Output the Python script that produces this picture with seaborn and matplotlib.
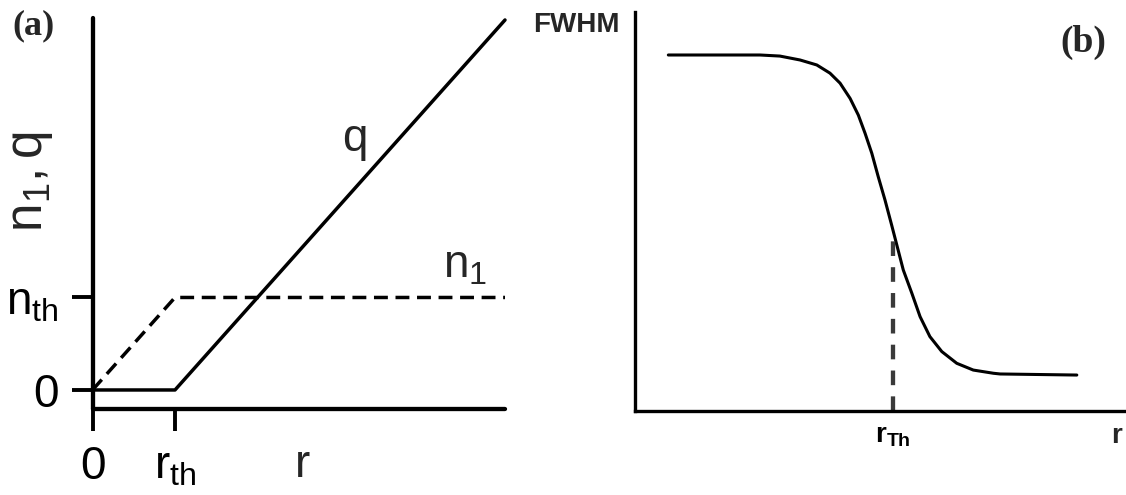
import matplotlib
matplotlib.use("Agg")
import numpy as np
import pandas as pd
import seaborn as sns
import matplotlib.pyplot as plt

# ---- panel (a): carrier density n1 and q versus r ----
r_a = [0.0, 1.0, 5.0]
q_a = [0.0, 0.0, 4.0]
n1_a = [0.0, 1.0, 1.0]
xticks_a = [0.0, 1.0]
xticklabels_a = ["0", r"$\mathregular{r_{th}}$"]
yticks_a = [0.0, 1.0]
yticklabels_a = ["0", r"$\mathregular{n_{th}}$"]

# ---- panel (b): FWHM versus r ----
r_b = [0.131, 0.409, 0.486, 0.563, 0.641, 0.706, 0.757, 0.796, 0.835, 0.867,
       0.893, 0.919, 0.944, 0.970, 0.996, 1.016, 1.041, 1.074, 1.106, 1.144,
       1.190, 1.248, 1.312, 1.390, 1.416, 1.713]
fwhm_b = [1.000, 1.000, 1.000, 0.997, 0.986, 0.972, 0.949, 0.921, 0.878, 0.831,
          0.780, 0.724, 0.658, 0.593, 0.522, 0.466, 0.396, 0.331, 0.265, 0.209,
          0.167, 0.134, 0.115, 0.106, 0.104, 0.101]
r_th_b = 1.0
fwhm_th_b = 0.505
xticklabels_b = [r"$\mathregular{r_{Th}}$"]

sns.set_theme(style="white")
plt.rcParams["font.family"] = ["Liberation Sans", "DejaVu Sans"]
plt.rcParams["mathtext.fontset"] = "custom"
plt.rcParams["mathtext.rm"] = "Liberation Sans"
plt.rcParams["mathtext.it"] = "Liberation Sans"
plt.rcParams["mathtext.bf"] = "Liberation Sans:bold"

fig = plt.figure(figsize=(11.26, 4.95), dpi=100)
axA = fig.add_axes([0.06017, 0.12808, 0.40298, 0.8596])
axB = fig.add_axes([0.5635, 0.1697, 0.4357, 0.8055])

# ---------------- panel (a) ----------------
dfA = pd.DataFrame({"r": r_a, "q": q_a, "n1": n1_a})
sns.lineplot(data=dfA, x="r", y="q", ax=axA, color="black", lw=2.5,
             clip_on=False)
sns.lineplot(data=dfA, x="r", y="n1", ax=axA, color="black", lw=2.5,
             linestyle=(0, (4.0, 2.2)), clip_on=False)

axA.set_xlim(-0.3, 5.2)
axA.set_ylim(-0.45, 4.15)
axA.set_xlabel("")
axA.set_ylabel("")
for side in ("top", "right"):
    axA.spines[side].set_visible(False)
axA.spines["left"].set_position(("data", 0))
axA.spines["left"].set_bounds(-0.21, 4.02)
axA.spines["bottom"].set_position(("data", -0.21))
axA.spines["bottom"].set_bounds(0, 5.0)
for side in ("left", "bottom"):
    axA.spines[side].set_linewidth(3.1)
    axA.spines[side].set_color("black")
    axA.spines[side].set_capstyle("round")

axA.set_xticks(xticks_a)
axA.set_xticklabels(xticklabels_a)
axA.set_yticks(yticks_a)
axA.set_yticklabels(yticklabels_a)
axA.tick_params(axis="x", direction="out", length=16.1, width=2.8,
                pad=9.5, labelsize=33, colors="black", bottom=True)
axA.tick_params(axis="y", direction="out", length=15.0, width=2.8,
                pad=9.5, labelsize=33, colors="black", left=True)

axA.text(3.18, 2.58, "q", fontsize=33, ha="center", va="baseline")
axA.text(4.25, 1.22, r"$\mathregular{n_1}$", fontsize=33, ha="left",
         va="baseline")
axA.annotate("r", xy=(2.54, -0.21), xycoords="data",
             xytext=(0, -48.7), textcoords="offset points",
             fontsize=33, ha="center", va="baseline")
fig.text(42 / 1126, 1 - 182 / 495, r"$\mathregular{n_1, q}$", fontsize=37,
         rotation=90, rotation_mode="anchor", ha="center", va="baseline")

# ---------------- panel (b) ----------------
dfB = pd.DataFrame({"r": r_b, "FWHM": fwhm_b})
sns.lineplot(data=dfB, x="r", y="FWHM", ax=axB, color="black", lw=2.2)
axB.vlines(r_th_b, 0, fwhm_th_b, colors="#3a3a3a", lw=3.1,
           linestyles=(0, (3.4, 2.6)))

axB.set_xlim(0, 1.9)
axB.set_ylim(0, 1.12)
axB.set_xlabel("")
axB.set_ylabel("")
for side in ("top", "right"):
    axB.spines[side].set_visible(False)
for side in ("left", "bottom"):
    axB.spines[side].set_linewidth(2.4)
    axB.spines[side].set_color("black")
axB.set_xticks([r_th_b])
axB.set_xticklabels(xticklabels_b, fontweight="bold")
axB.set_yticks([])
axB.tick_params(axis="x", length=0, pad=9, labelsize=20, colors="black")
axB.annotate("r", xy=(1.867, 0), xycoords="data",
             xytext=(0, -23.0), textcoords="offset points",
             fontsize=20, fontweight="bold", ha="center", va="baseline")
axB.text(-0.0296, 0.968, "FWHM", transform=axB.transAxes, fontsize=20,
         fontweight="bold", ha="right", va="center")

# panel letters
fig.text(34 / 1126, 1 - 26 / 495, "(a)", family="Liberation Serif",
         fontweight="bold", fontsize=26, ha="center", va="center")
fig.text(1083 / 1126, 1 - 42 / 495, "(b)", family="Liberation Serif",
         fontweight="bold", fontsize=27, ha="center", va="center")

fig.savefig("out.png", dpi=100, facecolor="white")
